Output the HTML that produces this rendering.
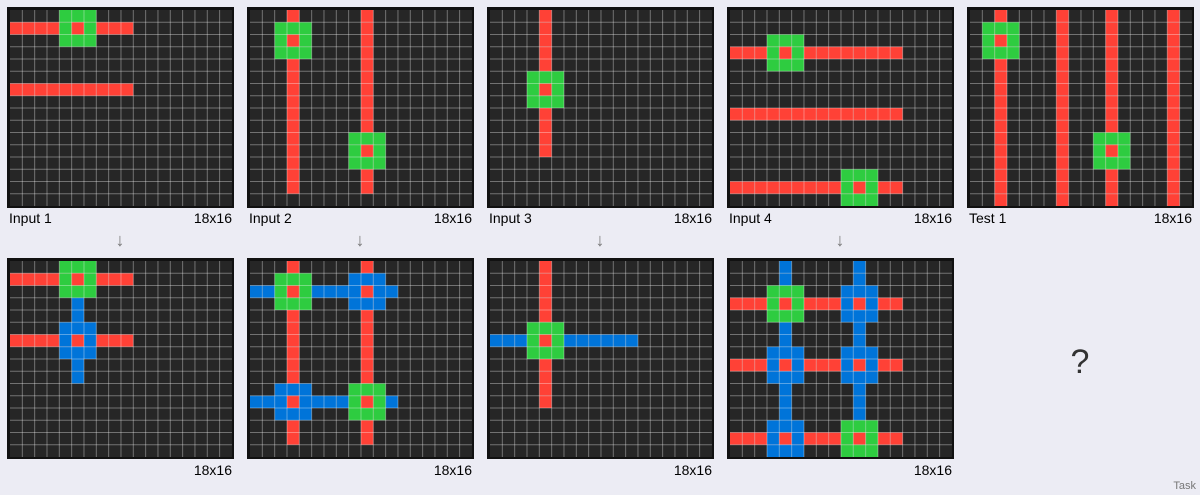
<!DOCTYPE html>
<html><head><meta charset="utf-8"><style>
body{margin:0;background:#ececf4;width:1200px;height:495px;overflow:hidden;font-family:"Liberation Sans",sans-serif}
svg{display:block}
</style></head><body>
<svg id="s" width="1200" height="495"></svg>
<script>
// lines: [orientation, index, from, to, color]; rings: [row, col, color]
const inputLabels=["Input 1","Input 2","Input 3","Input 4","Test 1"];
const gridLines=[
 [["h",1,0,9,"r"],["h",6,0,9,"r"]],
 [["v",3,0,14,"r"],["v",9,0,14,"r"]],
 [["v",4,0,11,"r"]],
 [["h",3,0,13,"r"],["h",8,0,13,"r"],["h",14,0,13,"r"]],
 [["v",2,0,15,"r"],["v",7,0,15,"r"],["v",11,0,15,"r"],["v",16,0,15,"r"]],
 [["h",1,0,9,"r"],["v",5,3,9,"b"],["h",6,0,9,"r"]],
 [["h",2,0,11,"b"],["h",11,0,11,"b"],["v",3,0,14,"r"],["v",9,0,14,"r"]],
 [["h",6,0,11,"b"],["v",4,0,11,"r"]],
 [["v",4,0,15,"b"],["v",10,0,15,"b"],["h",3,0,13,"r"],["h",8,0,13,"r"],["h",14,0,13,"r"]]
];
const gridRings=[
 [[1,5,"g"]],
 [[2,3,"g"],[11,9,"g"]],
 [[6,4,"g"]],
 [[3,4,"g"],[14,10,"g"]],
 [[2,2,"g"],[11,11,"g"]],
 [[1,5,"g"],[6,5,"b"]],
 [[2,3,"g"],[11,9,"g"],[2,9,"b"],[11,3,"b"]],
 [[6,4,"g"]],
 [[3,4,"g"],[14,10,"g"],[3,10,"b"],[8,4,"b"],[8,10,"b"],[14,4,"b"]]
];
const COL={r:"#ff4136",g:"#2ecc40",b:"#0074d9"};
const NS="http://www.w3.org/2000/svg";
const s=document.getElementById('s');
function el(t,a,p){const e=document.createElementNS(NS,t);for(const k in a)e.setAttribute(k,a[k]);(p||s).appendChild(e);return e;}
const CW=12.33,CH=12.25;
function grid(idx,px,py){
 const g=el('g',{});
 
 
 el('rect',{x:px,y:py,width:227,height:201,fill:'#111'},g);
 const gx=px+3,gy=py+3;
 el('rect',{x:gx,y:gy,width:18*CW,height:16*CH,fill:'#262626'},g);
 const cell=(r,c,col)=>el('rect',{x:gx+c*CW,y:gy+r*CH,width:CW,height:CH,fill:COL[col]},g);
 for(const L of gridLines[idx]){
  for(let k=L[2];k<=L[3];k++){ if(L[0]=="h")cell(L[1],k,L[4]); else cell(k,L[1],L[4]); }
 }
 for(const R of gridRings[idx]){
  for(let dr=-1;dr<=1;dr++)for(let dc=-1;dc<=1;dc++){
   const r=R[0]+dr,c=R[1]+dc;
   if(r<0||r>15||c<0||c>17)continue;
   cell(r,c,(dr==0&&dc==0)?"r":R[2]);
  }
 }
 for(let i=1;i<18;i++)el('line',{x1:gx+i*CW,x2:gx+i*CW,y1:gy,y2:gy+16*CH,stroke:'#fff','stroke-width':1,opacity:0.35},g);
 for(let i=1;i<16;i++)el('line',{x1:gx,x2:gx+18*CW,y1:gy+i*CH,y2:gy+i*CH,stroke:'#fff','stroke-width':1,opacity:0.35},g);
 return g;
}
const px=[7,247,487,727,967];
for(let i=0;i<5;i++){
 grid(i,px[i],7);
 const t=el('text',{x:px[i]+2,y:223,'font-size':14,fill:'#000'});t.textContent=inputLabels[i];
 
 
 const d=el('text',{x:px[i]+225,y:223,'font-size':14,fill:'#000','text-anchor':'end'});d.textContent="18x16";
 
 
}
for(let i=0;i<4;i++){
 grid(5+i,px[i],258);
 const a=el('text',{x:px[i]+113,y:246,'font-size':18,fill:'#777','text-anchor':'middle'});a.textContent="↓";
 
 
 const d=el('text',{x:px[i]+225,y:475,'font-size':14,fill:'#000','text-anchor':'end'});d.textContent="18x16";
 
 
}
const q=el('text',{x:1080,y:373,'font-size':34,fill:'#333','text-anchor':'middle'});q.textContent="?";


const tk=el('text',{x:1196,y:489,'font-size':11,fill:'#777','text-anchor':'end'});tk.textContent="Task";


</script>
</body></html>
